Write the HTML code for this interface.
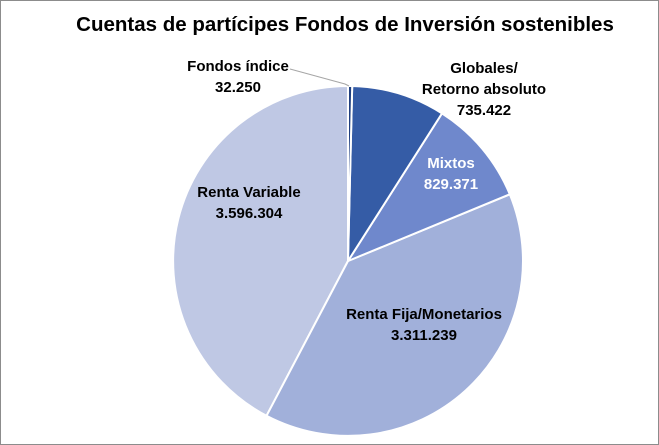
<!DOCTYPE html>
<html><head><meta charset="utf-8"><style>
html,body{margin:0;padding:0;background:#fff;}
body{width:659px;height:445px;overflow:hidden;}
svg{display:block;}
text{font-family:"Liberation Sans",Arial,sans-serif;font-weight:bold;}
</style></head><body>
<svg width="659" height="445" viewBox="0 0 659 445" xmlns="http://www.w3.org/2000/svg">
<rect x="0.5" y="0.5" width="658" height="444" fill="#fff" stroke="#8c8c8c"/>
<text x="345" y="31" font-size="20.5" text-anchor="middle" fill="#000">Cuentas de partícipes Fondos de Inversión sostenibles</text>
<g stroke="#fff" stroke-width="2" stroke-linejoin="round">
<path d="M348,261 L266.5,415.8 A175,175 0 0 1 348,86 Z" fill="#BFC8E4"/>
<path d="M348,261 L509.8,194.3 A175,175 0 0 1 266.5,415.8 Z" fill="#A1B0DA"/>
<path d="M348,261 L442,113.4 A175,175 0 0 1 509.8,194.3 Z" fill="#6F88CC"/>
<path d="M348,261 L352.2,86 A175,175 0 0 1 442,113.4 Z" fill="#355CA6"/>
<path d="M348,261 L348,86 A175,175 0 0 1 352.2,86 Z" fill="#1F3F80"/>
</g>
<polyline points="290,69 345,84 349,86" fill="none" stroke="#a6a6a6" stroke-width="1"/>
<g font-size="15" text-anchor="middle" fill="#000">
<text x="238" y="71">Fondos índice</text>
<text x="238" y="92">32.250</text>
<text x="484" y="73">Globales/</text>
<text x="484" y="94">Retorno absoluto</text>
<text x="484" y="115">735.422</text>
<text x="451" y="168" fill="#fff">Mixtos</text>
<text x="451" y="189" fill="#fff">829.371</text>
<text x="424" y="319">Renta Fija/Monetarios</text>
<text x="424" y="340">3.311.239</text>
<text x="249" y="197">Renta Variable</text>
<text x="249" y="218">3.596.304</text>
</g>
</svg>
</body></html>
